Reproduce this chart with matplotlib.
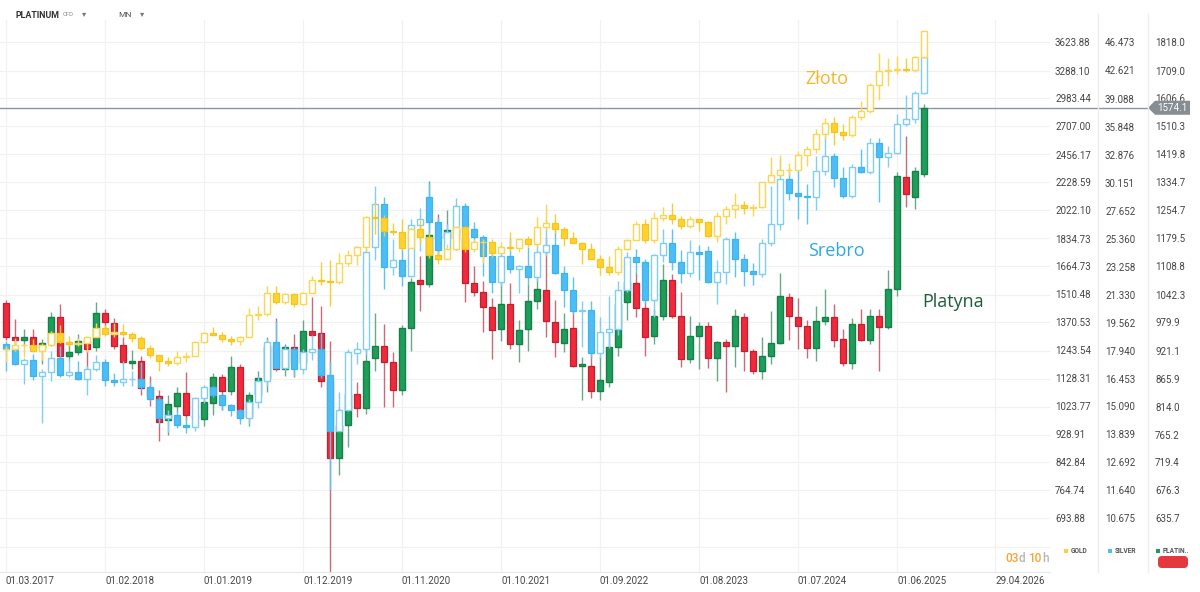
import numpy as np
import matplotlib
matplotlib.use("Agg")
import matplotlib.pyplot as plt
from matplotlib.patches import Rectangle, Polygon, FancyBboxPatch
from matplotlib.lines import Line2D
from matplotlib.transforms import IdentityTransform
from matplotlib.offsetbox import TextArea, HPacker, AnnotationBbox
from matplotlib.ticker import NullLocator

plt.rcParams['font.family'] = ['Roboto', 'DejaVu Sans']

# monthly candles, 03.2017 .. 09.2025 (103 bars)
gold_open = [1248, 1249, 1268, 1268, 1242, 1269, 1322, 1280, 1271, 1275,
             1303, 1345, 1318, 1325, 1315, 1299, 1253, 1224, 1201, 1192, 1215, 1222,
             1282, 1321, 1313, 1292, 1284, 1305, 1409, 1413, 1520, 1472, 1513, 1464,
             1517, 1589, 1585, 1577, 1686, 1730, 1781, 1975, 1968, 1886, 1879, 1776,
             1895, 1847, 1734, 1708, 1769, 1907, 1770, 1814, 1814, 1743, 1784, 1774,
             1829, 1797, 1909, 1937, 1897, 1838, 1807, 1766, 1711, 1661, 1633, 1769,
             1824, 1928, 1827, 1969, 1990, 1963, 1919, 1965, 1940, 1849, 1983, 2036,
             2063, 2039, 2044, 2230, 2286, 2327, 2327, 2448, 2503, 2635, 2744, 2657,
             2625, 2798, 2858, 3124, 3288, 3289, 3303, 3290, 3448]
gold_high = [1261, 1295, 1270, 1296, 1275, 1331, 1357, 1306, 1299, 1307,
             1366, 1361, 1366, 1365, 1326, 1309, 1266, 1221, 1214, 1243, 1237, 1284,
             1326, 1347, 1324, 1310, 1306, 1439, 1453, 1555, 1557, 1519, 1516, 1525,
             1611, 1689, 1704, 1747, 1765, 1789, 1984, 2075, 1992, 1933, 1966, 1907,
             1959, 1872, 1755, 1798, 1913, 1916, 1832, 1834, 1834, 1814, 1877, 1831,
             1853, 1974, 2070, 1998, 1910, 1879, 1814, 1807, 1735, 1729, 1786, 1833,
             1949, 1960, 2009, 2048, 2079, 1984, 1987, 1949, 1953, 2009, 2052, 2146,
             2088, 2065, 2236, 2431, 2450, 2388, 2483, 2531, 2685, 2790, 2801, 2726,
             2817, 2956, 3148, 3500, 3435, 3452, 3439, 3454, 3785]
gold_low = [1195, 1241, 1214, 1236, 1205, 1267, 1275, 1261, 1265, 1237,
            1302, 1307, 1303, 1310, 1282, 1246, 1211, 1160, 1180, 1183, 1196, 1221,
            1275, 1310, 1281, 1266, 1266, 1306, 1382, 1400, 1460, 1459, 1445, 1455,
            1517, 1563, 1451, 1567, 1670, 1671, 1757, 1863, 1849, 1860, 1765, 1775,
            1803, 1717, 1677, 1720, 1766, 1750, 1751, 1688, 1722, 1746, 1758, 1753,
            1780, 1781, 1890, 1872, 1787, 1805, 1681, 1709, 1615, 1617, 1616, 1765,
            1823, 1805, 1809, 1950, 1932, 1893, 1903, 1884, 1846, 1810, 1931, 1973,
            2001, 1984, 2039, 2228, 2277, 2286, 2318, 2364, 2471, 2603, 2536, 2583,
            2614, 2772, 2833, 2970, 3120, 3247, 3268, 3268, 3430]
gold_close = [1249, 1268, 1268, 1242, 1269, 1322, 1280, 1271, 1275, 1303,
              1345, 1318, 1325, 1315, 1299, 1253, 1224, 1201, 1192, 1215, 1222, 1282,
              1321, 1313, 1292, 1284, 1305, 1409, 1413, 1520, 1472, 1513, 1464, 1517,
              1589, 1585, 1577, 1686, 1730, 1781, 1975, 1968, 1886, 1879, 1776, 1895,
              1847, 1734, 1708, 1769, 1907, 1770, 1814, 1814, 1743, 1784, 1774, 1829,
              1797, 1909, 1937, 1897, 1838, 1807, 1766, 1711, 1661, 1633, 1769, 1824,
              1928, 1827, 1969, 1990, 1963, 1919, 1965, 1940, 1849, 1983, 2036, 2063,
              2039, 2044, 2230, 2286, 2327, 2327, 2448, 2503, 2635, 2744, 2657, 2625,
              2798, 2858, 3124, 3288, 3289, 3303, 3290, 3448, 3770]

silver_open = [18.30, 18.05, 17.22, 17.40, 16.60, 16.80, 17.55, 16.65, 16.80, 16.45,
               16.95, 17.30, 16.40, 16.30, 16.45, 16.45, 16.05, 15.45, 14.55, 14.70, 14.25, 14.15,
               15.50, 16.05, 15.62, 15.15, 14.95, 14.55, 15.30, 16.35, 18.40, 17.00, 18.05, 16.95,
               17.85, 18.00, 16.65, 14.00, 14.95, 17.80, 18.05, 24.70, 28.20, 23.25, 23.70, 22.60,
               26.45, 28.80, 26.70, 24.50, 25.90, 28.00, 26.10, 25.50, 24.00, 22.20, 24.00, 23.05,
               23.30, 22.50, 24.30, 24.85, 22.80, 21.65, 20.30, 20.35, 17.80, 19.00, 19.20, 21.65,
               23.95, 23.60, 20.95, 24.10, 25.00, 23.55, 22.80, 24.30, 24.40, 22.20, 22.90, 25.30,
               23.80, 22.95, 22.70, 25.00, 26.50, 30.45, 29.15, 28.95, 28.85, 31.20, 32.75, 30.60,
               28.90, 31.60, 31.15, 34.10, 32.60, 33.00, 36.10, 36.70, 39.80]
silver_high = [18.47, 18.65, 17.55, 17.75, 16.95, 17.90, 18.20, 17.45, 17.35, 17.10,
               17.70, 17.45, 16.75, 17.35, 16.85, 17.30, 16.30, 15.55, 14.95, 14.95, 14.60, 15.55,
               16.15, 16.10, 15.70, 15.20, 14.98, 15.45, 16.60, 18.60, 19.65, 18.20, 18.15, 18.00,
               18.85, 18.95, 17.30, 15.80, 18.05, 18.40, 24.55, 29.85, 28.85, 25.35, 25.80, 26.95,
               27.90, 30.10, 27.10, 26.50, 28.75, 28.30, 26.70, 25.60, 24.85, 24.85, 25.40, 23.40,
               24.70, 25.50, 26.95, 26.20, 23.30, 22.50, 20.90, 20.90, 19.90, 21.25, 22.25, 24.30,
               24.55, 23.80, 24.15, 26.10, 26.15, 24.50, 25.25, 24.85, 24.80, 23.70, 25.50, 25.90,
               24.15, 23.50, 25.30, 29.80, 32.50, 31.50, 31.75, 30.00, 32.70, 34.85, 33.00, 31.65,
               31.90, 33.40, 34.60, 34.60, 33.70, 37.30, 39.55, 40.00, 44.50]
silver_low = [16.83, 17.15, 16.19, 16.38, 14.35, 16.35, 16.55, 16.55, 16.40, 15.65,
              16.85, 16.10, 16.10, 16.10, 16.10, 15.90, 15.35, 14.30, 13.95, 14.10, 13.90, 14.00,
              15.25, 15.55, 14.95, 14.65, 14.30, 14.30, 15.00, 16.10, 16.95, 16.90, 16.60, 16.70,
              17.40, 16.50, 11.64, 14.00, 14.90, 17.20, 17.70, 23.75, 21.70, 22.65, 21.90, 22.50,
              24.40, 25.80, 23.80, 24.00, 25.70, 25.30, 24.70, 22.60, 21.45, 21.90, 22.80, 21.45,
              22.00, 22.25, 24.00, 22.70, 20.50, 20.10, 18.15, 17.55, 17.55, 18.10, 18.85, 21.50,
              22.75, 20.70, 19.90, 23.60, 23.00, 22.10, 22.50, 22.30, 22.10, 20.70, 22.00, 22.50,
              21.90, 21.95, 22.50, 24.75, 26.00, 28.60, 26.90, 26.55, 27.70, 30.90, 29.70, 28.75,
              28.75, 31.05, 31.00, 28.35, 31.60, 32.90, 35.90, 36.20, 39.60]
silver_close = [18.05, 17.22, 17.40, 16.60, 16.80, 17.55, 16.65, 16.80, 16.45, 16.95,
                17.30, 16.40, 16.30, 16.45, 16.45, 16.05, 15.45, 14.55, 14.70, 14.25, 14.15, 15.50,
                16.05, 15.62, 15.15, 14.95, 14.55, 15.30, 16.35, 18.40, 17.00, 18.05, 16.95, 17.85,
                18.00, 16.65, 14.00, 14.95, 17.85, 18.05, 24.30, 28.20, 23.25, 23.70, 22.60, 26.45,
                26.90, 26.70, 24.50, 25.90, 28.00, 26.10, 25.50, 24.00, 22.20, 24.00, 23.05, 23.30,
                22.50, 24.30, 24.85, 22.80, 21.65, 20.30, 20.35, 17.80, 19.00, 19.20, 21.65, 23.95,
                23.60, 20.95, 24.10, 25.00, 23.55, 22.80, 24.30, 24.15, 22.20, 22.90, 25.30, 23.80,
                22.95, 22.70, 25.00, 26.50, 30.45, 29.15, 28.95, 28.85, 31.20, 32.75, 30.60, 28.90,
                31.60, 31.15, 34.10, 32.60, 33.00, 36.10, 36.70, 39.80, 44.40]

plat_open = [1022, 948, 942, 950, 926, 936, 992, 911, 919, 940,
             928, 1001, 978, 932, 896, 900, 848, 834, 790, 815, 838, 798,
             792, 820, 868, 842, 889, 795, 835, 866, 930, 885, 928, 897,
             962, 958, 861, 726, 782, 837, 812, 905, 931, 898, 845, 968,
             1076, 1067, 1188, 1182, 1201, 1180, 1068, 1048, 1013, 965, 1021, 934,
             966, 1028, 1052, 982, 937, 968, 890, 891, 842, 860, 929, 1025,
             1068, 1012, 952, 995, 1076, 995, 904, 952, 972, 906, 938, 930,
             992, 920, 881, 911, 937, 1037, 991, 972, 927, 984, 991, 945,
             897, 976, 943, 993, 970, 1056, 1352, 1292, 1360]
plat_high = [1030, 988, 966, 965, 945, 1002, 1020, 940, 955, 950,
             1025, 1010, 990, 948, 922, 910, 870, 845, 835, 850, 878, 815,
             831, 877, 875, 911, 895, 840, 880, 950, 990, 935, 955, 985,
             1037, 1016, 940, 812, 850, 860, 985, 1000, 977, 918, 975, 1080,
             1136, 1340, 1245, 1256, 1270, 1200, 1110, 1075, 1035, 1080, 1068, 985,
             1067, 1090, 1180, 1030, 1000, 1006, 908, 922, 911, 965, 1035, 1090,
             1092, 1025, 1010, 1114, 1090, 1048, 994, 980, 980, 940, 945, 1009,
             1000, 925, 950, 1006, 1093, 1045, 1034, 985, 1017, 1055, 1020, 965,
             990, 1010, 1010, 1010, 1100, 1365, 1480, 1380, 1588]
plat_low = [942, 925, 933, 920, 894, 930, 905, 900, 912, 885,
            920, 960, 925, 895, 885, 835, 815, 755, 765, 805, 790, 778,
            780, 798, 807, 835, 790, 780, 822, 840, 880, 870, 868, 890,
            950, 850, 562, 700, 745, 795, 800, 880, 813, 813, 835, 920,
            1006, 1060, 1125, 1150, 1150, 1025, 1040, 959, 904, 940, 925, 898,
            920, 1010, 948, 908, 918, 888, 826, 830, 825, 850, 910, 985,
            991, 910, 935, 985, 990, 888, 896, 884, 886, 862, 840, 888,
            880, 875, 865, 894, 935, 943, 925, 906, 901, 975, 928, 890,
            885, 940, 935, 880, 965, 1040, 1264, 1259, 1350]
plat_close = [948, 942, 948, 926, 936, 992, 911, 919, 940, 925,
              1001, 980, 930, 898, 900, 848, 834, 786, 818, 838, 798, 793,
              822, 868, 842, 889, 795, 835, 866, 930, 885, 928, 897, 962,
              954, 861, 726, 782, 837, 812, 900, 930, 898, 845, 968, 1071,
              1067, 1188, 1182, 1201, 1180, 1070, 1048, 1013, 964, 1021, 935, 964,
              1028, 1054, 983, 938, 966, 891, 894, 842, 863, 929, 1021, 1071,
              1012, 950, 995, 1076, 993, 904, 952, 972, 906, 938, 930, 993,
              921, 881, 911, 937, 1038, 994, 972, 927, 984, 991, 942, 896,
              976, 943, 995, 970, 1056, 1355, 1302, 1370, 1574.1]

gold_ticks = [3623.88, 3288.10, 2983.44, 2707.00, 2456.17, 2228.59, 2022.10, 1834.73, 1664.73,
              1510.48, 1370.53, 1243.54, 1128.31, 1023.77, 928.91, 842.84, 764.74, 693.88]
silver_ticks = [46.473, 42.621, 39.088, 35.848, 32.876, 30.151, 27.652, 25.360, 23.258,
                21.330, 19.562, 17.940, 16.453, 15.090, 13.839, 12.692, 11.640, 10.675]
plat_ticks = [1818.0, 1709.0, 1606.6, 1510.3, 1419.8, 1334.7, 1254.7, 1179.5, 1108.8,
              1042.3, 979.9, 921.1, 865.9, 814.0, 765.2, 719.4, 676.3, 635.7]

# bar index of each date label (0 = 01.03.2017)
x_tick_pos = [0, 11, 22, 33, 44, 55, 66, 77, 88, 99, 109.93]
x_tick_labels = ['01.03.2017', '01.02.2018', '01.01.2019', '01.12.2019', '01.11.2020',
                 '01.10.2021', '01.09.2022', '01.08.2023', '01.07.2024', '01.06.2025',
                 '29.04.2026']

last_price = 1574.1

# ---- layout (pixels) ----
W, H = 1200, 592
AX_TOP, AX_BOT, AX_RIGHT = 20, 572, 1050
TICK0_PX, TICK_STEP = 42.5, 28
BAR0_PX, BAR_STEP = 6, 9


def log_limits(ticks):
    k = np.log(ticks[0] / ticks[-1]) / ((len(ticks) - 1) * TICK_STEP)
    hi = ticks[0] * np.exp((TICK0_PX - AX_TOP) * k)
    lo = ticks[0] * np.exp(-(AX_BOT - TICK0_PX) * k)
    return lo, hi


def draw_candles(ax, o, h, l, c, up_face, up_edge, dn_face, dn_edge, wick_up, wick_dn):
    o, h, l, c = (np.asarray(v, dtype=float) for v in (o, h, l, c))
    x = np.arange(len(o))
    up = c >= o
    lo = np.minimum(o, c)
    hi = np.maximum(o, c)
    ax.vlines(x[up], l[up], h[up], color=wick_up, lw=1.0, zorder=2)
    ax.vlines(x[~up], l[~up], h[~up], color=wick_dn, lw=1.0, zorder=2)
    ax.bar(x[up], (hi - lo)[up], bottom=lo[up], width=0.62, color=up_face,
           edgecolor=up_edge, lw=1.0, zorder=3)
    ax.bar(x[~up], (hi - lo)[~up], bottom=lo[~up], width=0.62, color=dn_face,
           edgecolor=dn_edge, lw=0.9, zorder=3)


fig = plt.figure(figsize=(W / 100, H / 100), dpi=100)
fig.patch.set_facecolor('white')

ax_p = fig.add_axes([0, (H - AX_BOT) / H, AX_RIGHT / W, (AX_BOT - AX_TOP) / H])
ax_s = ax_p.twinx()
ax_g = ax_p.twinx()
ax_p.yaxis.tick_right()

x_left = (0 - BAR0_PX) / BAR_STEP
x_right = (AX_RIGHT - BAR0_PX) / BAR_STEP

for ax, ticks, fmt, pad in [(ax_p, plat_ticks, '{:.1f}', 75.6),
                            (ax_s, silver_ticks, '{:.3f}', 39.6),
                            (ax_g, gold_ticks, '{:.2f}', 3.6)]:
    ax.set_yscale('log')
    ax.set_ylim(*log_limits(ticks))
    ax.set_yticks(ticks, labels=[fmt.format(t) for t in ticks])
    ax.yaxis.set_minor_locator(NullLocator())
    ax.tick_params(axis='y', length=0, pad=pad, labelsize=7, labelcolor='#454545')
    ax.set_xlim(x_left, x_right)
    for sp in ax.spines.values():
        sp.set_visible(False)
    ax.patch.set_visible(False)

ax_p.patch.set_visible(True)
ax_p.set_axisbelow(True)
ax_p.grid(True, color='#f1f1f1', lw=0.9)
ax_p.axhline(plat_ticks[-1] ** 2 / plat_ticks[-2], color='#f1f1f1', lw=0.9, zorder=0)
ax_p.spines['bottom'].set_visible(True)
ax_p.spines['bottom'].set_color('#e8e8e8')
ax_p.set_xticks(x_tick_pos, labels=x_tick_labels)
ax_p.tick_params(axis='x', length=0, pad=3, labelsize=7, labelcolor='#454545')
for t in ax_p.get_xticklabels():
    t.set_horizontalalignment('left')

# current price line
ax_p.axhline(last_price, color='#8d959b', lw=1.0, zorder=1.5)

draw_candles(ax_p, plat_open, plat_high, plat_low, plat_close,
             '#1f9d5b', '#168049', '#ee2a3c', '#c41f2f', '#6aa886', '#cb6a77')
draw_candles(ax_s, silver_open, silver_high, silver_low, silver_close,
             'white', '#80cdf5', '#4dbef5', '#3fb3ec', '#80cdf5', '#5cc3f5')
draw_candles(ax_g, gold_open, gold_high, gold_low, gold_close,
             'white', '#fcd650', '#ffd22f', '#f5c51d', '#fcd650', '#f8cd34')

fig.canvas.draw()
ident = IdentityTransform()


def dy(y):
    return H - y


# price line continues into the axis columns, with its label
price_y = ax_p.transData.transform((0, last_price))[1]
fig.add_artist(Line2D([AX_RIGHT, 1148], [price_y, price_y], color='#8d959b', lw=1.0,
                      transform=ident))
fig.add_artist(Polygon([[1148, price_y], [1155, price_y + 7], [1190, price_y + 7],
                        [1190, price_y - 7], [1155, price_y - 7]],
                       closed=True, facecolor='#868e93', edgecolor='none', transform=ident))
fig.text(1172 / W, price_y / H, f'{last_price:.1f}', color='white', fontsize=7,
         ha='center', va='center')

# column separators
for xs in (1098, 1148):
    fig.add_artist(Line2D([xs, xs], [dy(14), dy(AX_BOT)], color='#eeeeee', lw=1.0,
                          transform=ident))

# header
fig.text(16 / W, 1 - 15 / H, 'PLATINUM', fontsize=6.4, fontweight='bold', color='#333333',
         va='center')
fig.text(63 / W, 1 - 15 / H, 'CFD', fontsize=4.2, color='#8a8a8a', va='center')
fig.text(82 / W, 1 - 14 / H, '▾', fontsize=6, color='#777777', va='center')
fig.text(118 / W, 1 - 15 / H, 'MN', fontsize=6, color='#555555', va='center')
fig.text(140 / W, 1 - 14 / H, '▾', fontsize=6, color='#777777', va='center')

# series names
fig.text(805 / W, 1 - 79 / H, 'Złoto', fontsize=13, color='#f4b62a', va='center',
         family=['Open Sans', 'DejaVu Sans'])
fig.text(808 / W, 1 - 251 / H, 'Srebro', fontsize=13, color='#2aa9ea', va='center',
         family=['Open Sans', 'DejaVu Sans'])
fig.text(922 / W, 1 - 302 / H, 'Platyna', fontsize=13, color='#1d5d3c', va='center',
         family=['Open Sans', 'DejaVu Sans'])

# time left in candle
orange, grey = '#f5a33a', '#b5b5b5'
parts = [('03', orange), ('d ', grey), ('10', orange), ('h', grey)]
box = HPacker(children=[TextArea(s, textprops=dict(color=col, fontsize=8.5, fontweight='medium'))
                        for s, col in parts], sep=0, pad=0)
fig.add_artist(AnnotationBbox(box, (1027, dy(559)), xycoords='figure pixels',
                              frameon=False, box_alignment=(0.5, 0.5)))

# legend squares
for xs, col, name in [(1064, '#ffd22f', 'GOLD'), (1108, '#4dbef5', 'SILVER'),
                      (1156, '#1f9d5b', 'PLATIN..')]:
    fig.add_artist(Rectangle((xs, dy(553)), 4, 4, facecolor=col, edgecolor='none',
                             transform=ident))
    fig.text((xs + 7) / W, 1 - 551 / H, name, fontsize=4.8, fontweight='bold',
             color='#555555', va='center')

fig.add_artist(FancyBboxPatch((1158, dy(568)), 30, 12,
                              boxstyle='round,pad=0,rounding_size=4',
                              facecolor='#e5383d', edgecolor='none', transform=ident))

fig.savefig('out.png', dpi=100, facecolor='white')
